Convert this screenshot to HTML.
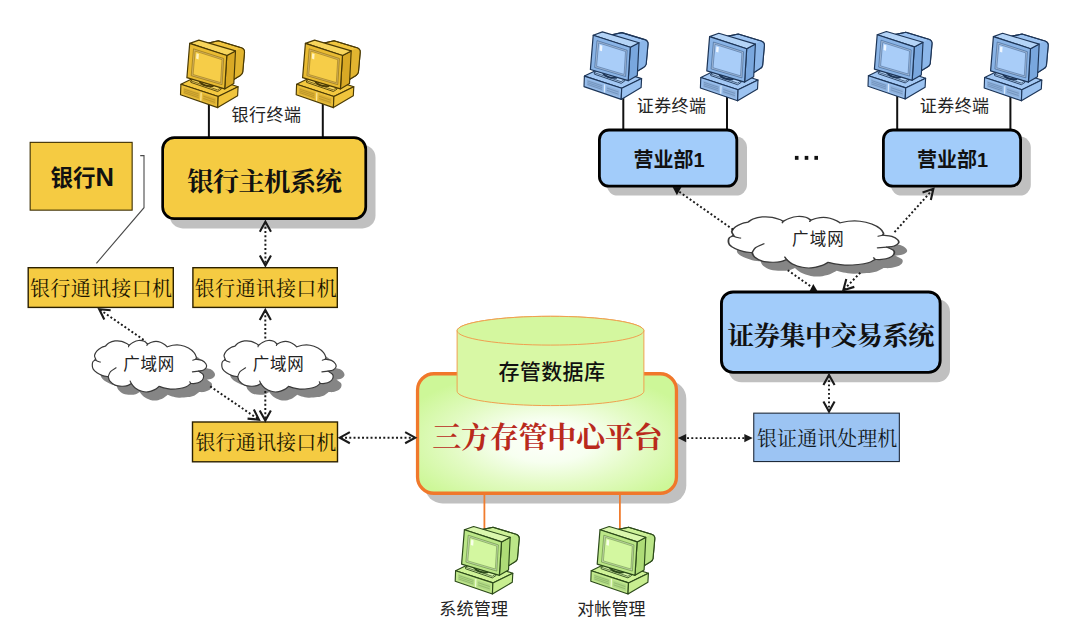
<!DOCTYPE html>
<html><head><meta charset="utf-8"><title>diagram</title>
<style>html,body{margin:0;padding:0;background:#fff;font-family:"Liberation Sans",sans-serif}svg{display:block}</style>
</head><body>
<svg width="1080" height="623" viewBox="0 0 1080 623">
<rect width="1080" height="623" fill="#fff"/>
<defs><path id="cl" d="M3.87 20.02C3.64 19.31 2.33 17.21 2.52 15.75C2.7 14.29 3.83 12.56 4.99 11.25C6.15 9.94 8.08 8.67 9.48 7.88C10.89 7.1 12.76 6.76 13.42 6.53C13.98 6.01 15.19 4.25 16.79 3.39C18.38 2.53 20.81 1.65 22.97 1.37C25.12 1.09 27.74 1.27 29.71 1.7C31.67 2.13 33.55 3.3 34.76 3.95C35.98 4.61 36.64 5.36 37.01 5.64C37.67 5.17 39.35 3.61 40.94 2.83C42.54 2.04 44.69 1.1 46.56 0.92C48.43 0.73 50.68 1.1 52.18 1.7C53.68 2.3 54.99 4.04 55.55 4.51C56.25 4.18 58.1 3.05 59.5 2.6C60.9 2.15 62.52 1.8 64 1.8C65.48 1.8 66.92 2.05 68.4 2.6C69.88 3.15 71.78 4.32 72.9 5.1C74.02 5.88 74.73 6.93 75.1 7.3C76.04 7.04 78.47 5.92 80.72 5.64C82.97 5.36 85.96 5.17 88.58 5.64C91.21 6.1 94.2 7.23 96.45 8.44C98.7 9.66 100.76 11.44 102.07 12.94C103.38 14.44 104.03 16.31 104.31 17.43C104.6 18.56 103.85 19.31 103.75 19.68C104.78 19.87 108.25 20.06 109.93 20.8C111.62 21.55 113.12 23.05 113.87 24.18C114.61 25.3 114.8 26.52 114.43 27.55C114.05 28.58 112.93 29.7 111.62 30.36C110.31 31.01 107.4 31.29 106.56 31.48C107.31 32.04 110.27 33.63 111.06 34.85C111.84 36.07 111.75 37.56 111.28 38.78C110.81 40 109.6 41.31 108.25 42.15C106.9 43 104.78 43.56 103.19 43.84C101.6 44.12 99.45 43.84 98.7 43.84C97.95 44.4 96.07 46.37 94.2 47.21C92.33 48.05 90.08 48.52 87.46 48.89C84.84 49.27 81.09 49.55 78.47 49.46C75.85 49.36 73.6 48.8 71.73 48.33C69.86 47.86 67.99 46.93 67.24 46.65C66.49 47.21 64.61 49.08 62.74 50.02C60.87 50.95 58.13 51.98 56 52.27C53.87 52.55 52.07 52.36 49.93 51.7C47.8 51.05 44.97 49.64 43.19 48.33C41.41 47.02 39.91 44.59 39.26 43.84C38.6 44.21 36.92 45.62 35.33 46.09C33.73 46.55 31.77 46.74 29.71 46.65C27.65 46.55 24.93 46.37 22.97 45.52C21 44.68 19.03 43 17.91 41.59C16.79 40.19 16.51 37.85 16.22 37.1C15.29 36.91 12.48 36.63 10.61 35.97C8.73 35.32 6.58 34.29 4.99 33.16C3.4 32.04 1.84 30.54 1.06 29.23C0.27 27.92 0.27 26.52 0.27 25.3C0.27 24.08 0.46 22.81 1.06 21.93C1.66 21.05 3.4 20.34 3.87 20.02Z"/><path id="cli" d="M2.97 20.02C3.4 20.28 4.65 21.18 5.55 21.59C6.45 22 7.89 22.34 8.36 22.49M16.22 37.1C16.6 36.25 17.16 33.54 18.47 32.04C19.78 30.54 23.15 28.76 24.09 28.11M37.01 5.64L36.45 7.21M39.26 43.84L38.13 41.37M103.75 19.68L100.72 20.58M106.56 31.48L100.38 32.27M98.7 43.84L97.8 42.15M55.55 4.51L54.88 5.86"/><radialGradient id="pg" cx="0.5" cy="0.56" r="0.6" fx="0.5" fy="0.56"><stop offset="0" stop-color="#fefffc"/><stop offset="0.3" stop-color="#f7fff0"/><stop offset="0.62" stop-color="#e3fbc4"/><stop offset="1" stop-color="#cdf798"/></radialGradient><filter id="glow" x="-5%" y="-30%" width="110%" height="160%"><feMorphology in="SourceAlpha" operator="dilate" radius="1.2" result="d"/><feGaussianBlur in="d" stdDeviation="1.6" result="b"/><feFlood flood-color="#fff" flood-opacity="0.95"/><feComposite in2="b" operator="in" result="g"/><feMerge><feMergeNode in="g"/><feMergeNode in="g"/><feMergeNode in="SourceGraphic"/></feMerge></filter></defs>
<line x1="208.9" y1="98" x2="208.9" y2="138" stroke="#111" stroke-width="2"/>
<line x1="322.8" y1="98" x2="322.8" y2="138" stroke="#111" stroke-width="2"/>
<line x1="623.3" y1="92" x2="623.3" y2="130" stroke="#111" stroke-width="2"/>
<line x1="727" y1="94" x2="727" y2="130" stroke="#111" stroke-width="2"/>
<line x1="897.2" y1="90" x2="897.2" y2="130" stroke="#111" stroke-width="2"/>
<line x1="1010.4" y1="94" x2="1010.4" y2="130" stroke="#111" stroke-width="2"/>
<rect x="169.7" y="144.7" width="205.8" height="83.7" rx="13" fill="#c0c0c0"/><rect x="162.65" y="137.65" width="203.1" height="81" rx="11.65" fill="#f5cb42" stroke="#000" stroke-width="2.7"/>
<rect x="30.15" y="142.35" width="102" height="67.8" rx="0" fill="#f5cb42" stroke="#3b2d00" stroke-width="1.1"/>
<polyline points="140.2,155.6 144,155.6 144,207.7 96.4,263.3" fill="none" stroke="#4a4a4a" stroke-width="1.1"/>
<rect x="28.2" y="267.7" width="145.1" height="39.7" rx="0" fill="#f5cb42" stroke="#2b2000" stroke-width="1.4"/>
<rect x="192.9" y="267.7" width="144.4" height="39.7" rx="0" fill="#f5cb42" stroke="#2b2000" stroke-width="1.4"/>
<rect x="192.5" y="422" width="145" height="39.8" rx="0" fill="#f5cb42" stroke="#2b2000" stroke-width="1.4"/>
<rect x="606.8" y="136.6" width="140.2" height="59" rx="11" fill="#c0c0c0"/><rect x="599.4" y="130" width="137.4" height="56.2" rx="9.6" fill="#a2ccfa" stroke="#000" stroke-width="2.8"/>
<rect x="890.8" y="136.6" width="140" height="59" rx="11" fill="#c0c0c0"/><rect x="883.4" y="130" width="137.2" height="56.2" rx="9.6" fill="#a2ccfa" stroke="#000" stroke-width="2.8"/>
<rect x="728.4" y="298.9" width="221.6" height="83.3" rx="13" fill="#c0c0c0"/><rect x="721.45" y="291.95" width="218.7" height="80.4" rx="11.55" fill="#a2ccfa" stroke="#000" stroke-width="2.9"/>
<rect x="753.75" y="413.15" width="145.6" height="48.4" rx="0" fill="#9cc4f3" stroke="#1e2a3a" stroke-width="1.1"/>
<rect x="424.6" y="380.7" width="261.7" height="122.7" rx="18" fill="#c0c0c0"/>
<line x1="484.4" y1="494" x2="484.4" y2="530" stroke="#f07c2e" stroke-width="1.8"/>
<line x1="619.9" y1="494" x2="619.9" y2="530" stroke="#f07c2e" stroke-width="1.8"/>
<rect x="417.55" y="373.75" width="258.9" height="119.5" rx="16.35" fill="url(#pg)" stroke="#f0782b" stroke-width="3.3"/>
<path d="M457.1 330.7 L457.1 391.2 A93.4 14.4 0 0 0 643.9 391.2 L643.9 330.7 A93.4 14.4 0 0 0 457.1 330.7Z" fill="#d8f8a5" stroke="#f0a050" stroke-width="1"/>
<ellipse cx="550.5" cy="330.7" rx="93.4" ry="14.4" fill="#d4f79f" stroke="#f0a050" stroke-width="1"/>
<g transform="translate(92 339.6) scale(1 1)"><use href="#cl" fill="#858585" transform="translate(8.4 8.6)"/><use href="#cl" fill="#fff" stroke="#3a3a3a" stroke-width="1.2" vector-effect="non-scaling-stroke" stroke-linejoin="round"/><use href="#cli" fill="none" stroke="#3a3a3a" stroke-width="1.1" stroke-linecap="round" vector-effect="non-scaling-stroke"/></g>
<g transform="translate(221.5 339.6) scale(1 1)"><use href="#cl" fill="#858585" transform="translate(8.4 8.6)"/><use href="#cl" fill="#fff" stroke="#3a3a3a" stroke-width="1.2" vector-effect="non-scaling-stroke" stroke-linejoin="round"/><use href="#cli" fill="none" stroke="#3a3a3a" stroke-width="1.1" stroke-linecap="round" vector-effect="non-scaling-stroke"/></g>
<g transform="translate(728 215.6) scale(1.49 1)"><use href="#cl" fill="#858585" transform="translate(5.64 8.6)"/><use href="#cl" fill="#fff" stroke="#3a3a3a" stroke-width="1.2" vector-effect="non-scaling-stroke" stroke-linejoin="round"/><use href="#cli" fill="none" stroke="#3a3a3a" stroke-width="1.1" stroke-linecap="round" vector-effect="non-scaling-stroke"/></g>
<line x1="265.4" y1="222.6" x2="265.4" y2="264.6" stroke="#1a1a1a" stroke-width="1.95" stroke-dasharray="1.95 2.3"/><polyline points="259.82,231.66 265.4,221.6 270.98,231.66" fill="none" stroke="#1a1a1a" stroke-width="2.1" stroke-linejoin="miter"/><polyline points="270.98,255.54 265.4,265.6 259.82,255.54" fill="none" stroke="#1a1a1a" stroke-width="2.1" stroke-linejoin="miter"/>
<line x1="100.02" y1="309.77" x2="145.6" y2="341.2" stroke="#1a1a1a" stroke-width="1.95" stroke-dasharray="1.95 2.3"/><polyline points="104.31,319.5 99.2,309.2 110.65,310.32" fill="none" stroke="#1a1a1a" stroke-width="2.1" stroke-linejoin="miter"/>
<line x1="265.3" y1="311" x2="265.3" y2="340.5" stroke="#1a1a1a" stroke-width="1.95" stroke-dasharray="1.95 2.3"/><polyline points="259.72,320.06 265.3,310 270.88,320.06" fill="none" stroke="#1a1a1a" stroke-width="2.1" stroke-linejoin="miter"/>
<line x1="265.3" y1="391" x2="265.3" y2="419.6" stroke="#1a1a1a" stroke-width="1.95" stroke-dasharray="1.95 2.3"/><polyline points="270.88,410.54 265.3,420.6 259.72,410.54" fill="none" stroke="#1a1a1a" stroke-width="2.1" stroke-linejoin="miter"/>
<line x1="210.2" y1="386.4" x2="258.17" y2="419.14" stroke="#1a1a1a" stroke-width="1.95" stroke-dasharray="1.95 2.3"/><polyline points="253.83,409.43 259,419.7 247.55,418.64" fill="none" stroke="#1a1a1a" stroke-width="2.1" stroke-linejoin="miter"/>
<line x1="340.8" y1="437.7" x2="414.2" y2="437.7" stroke="#1a1a1a" stroke-width="1.95" stroke-dasharray="1.95 2.3"/><polyline points="349.86,443.28 339.8,437.7 349.86,432.12" fill="none" stroke="#1a1a1a" stroke-width="2.1" stroke-linejoin="miter"/><polyline points="405.14,432.12 415.2,437.7 405.14,443.28" fill="none" stroke="#1a1a1a" stroke-width="2.1" stroke-linejoin="miter"/>
<line x1="682.8" y1="438.1" x2="747.7" y2="438.1" stroke="#1a1a1a" stroke-width="1.95" stroke-dasharray="1.95 2.3"/><polygon points="677.8,438.1 686.2,434 686.2,442.2" fill="#1a1a1a"/><polygon points="752.7,438.1 744.3,442.2 744.3,434" fill="#1a1a1a"/>
<line x1="829" y1="375.9" x2="829" y2="410.5" stroke="#1a1a1a" stroke-width="1.95" stroke-dasharray="1.95 2.3"/><polyline points="823.42,384.96 829,374.9 834.58,384.96" fill="none" stroke="#1a1a1a" stroke-width="2.1" stroke-linejoin="miter"/><polyline points="834.58,401.44 829,411.5 823.42,401.44" fill="none" stroke="#1a1a1a" stroke-width="2.1" stroke-linejoin="miter"/>
<line x1="679.3" y1="191.8" x2="733.8" y2="230.1" stroke="#1a1a1a" stroke-width="1.95" stroke-dasharray="1.95 2.3"/>
<polygon points="672.6,187 681.5,187 676.9,195.3" fill="#111"/>
<line x1="787.7" y1="270.2" x2="810.6" y2="286.3" stroke="#1a1a1a" stroke-width="1.95" stroke-dasharray="1.95 2.3"/>
<polygon points="809.4,291.5 817.7,291.5 813.3,284" fill="#111"/>
<line x1="932.73" y1="189.54" x2="894.1" y2="232.6" stroke="#1a1a1a" stroke-width="1.95" stroke-dasharray="1.95 2.3"/><polyline points="922.53,192.56 933.4,188.8 930.83,200.01" fill="none" stroke="#1a1a1a" stroke-width="2.1" stroke-linejoin="miter"/>
<line x1="860.3" y1="272.7" x2="844" y2="289.48" stroke="#1a1a1a" stroke-width="1.95" stroke-dasharray="1.95 2.3"/><polyline points="854.31,286.87 843.3,290.2 846.31,279.1" fill="none" stroke="#1a1a1a" stroke-width="2.1" stroke-linejoin="miter"/>
<g transform="translate(180.3 40.2)" stroke="#4a3a05" stroke-width="1.15" stroke-linejoin="round"><path d="M27 3 L38 0.6 L61 7.6 Q64.4 8.8 64.2 12 L62.4 32 Q62 34 60 35.2 L53 39.5 L50 20Z" fill="#f1c53f"/><path d="M55.2 10.7 L61 7.6 Q64.4 8.8 64.2 12 L62.4 32 Q62 34 60 35.2 L53.8 39 Z" fill="#e2b530" stroke="none"/><path d="M27 3 L38 0.6 L61 7.6 Q64.4 8.8 64.2 12 L62.4 32 Q62 34 60 35.2 L53 39.5" fill="none"/><polygon points="0.6,44.1 20.5,34.4 57.8,46.6 37.9,56.3" fill="#f3c840"/><polygon points="0.6,44.1 37.9,56.3 37.4,67.4 0.2,54.6" fill="#ebbf39"/><polygon points="37.9,56.3 57.8,46.6 57.3,55.6 37.4,67.4" fill="#f0c43c"/><polygon points="3.12,47.27 19.15,52.58 18.88,59.06 2.88,53.6" fill="#d9ae35" stroke="none"/><polygon points="22.51,53.69 35.55,58 35.26,64.64 22.23,60.2" fill="#d9ae35" stroke="none"/><g stroke="#8a6d10" stroke-width="0.6" fill="none" opacity="0.55"><path d="M3.81 49L18.34 53.84"/><path d="M3.74 50.69L18.27 55.57"/><path d="M3.68 52.37L18.2 57.29"/><path d="M23.16 56.11L34.71 59.97"/><path d="M23.07 58.28L34.61 62.18"/></g><path d="M20.86 52.37L20.52 60.49" stroke="#fff3c0" stroke-width="1.1" opacity="0.8"/><path d="M10.4 40.6 L10.6 42.2 L37.4 51.3 L41 48.9 L40.8 47.4 L14 38.4Z" fill="#f7d55c" stroke-width="0.9"/><path d="M10.5 40.6 L37.3 49.7 L40.8 47.4" fill="none" stroke-width="0.7"/><path d="M19.5 41.6 Q24 46.6 32.5 45.8" fill="none" stroke-width="1.9" stroke-linecap="round"/><polygon points="46.5,15.3 55.2,10.7 53.5,43.4 44.4,48.7" fill="#d9a925"/><polygon points="9.4,3.2 18.6,-0.1 55.2,10.7 46.5,15.3" fill="#f7d55c"/><polygon points="9.4,3.2 46.5,15.3 44.4,48.7 6.6,37.5" fill="#e9bb33" stroke-width="1.2"/><polygon points="13.2,8.6 43.4,18.3 41.8,44.5 10.9,35.5" fill="#d4b05a" stroke="#8a6d10" stroke-width="0.6"/><polygon points="14.9,10.9 41.7,19.5 40.3,42.4 12.8,34.3" fill="#f6cd48" stroke="#8a6d10" stroke-width="0.5"/><polygon points="16.2,13 18.6,13.8 18.2,19.2 15.8,18.4" fill="#fff3c0" stroke="none"/></g>
<g transform="translate(296 40.2)" stroke="#4a3a05" stroke-width="1.15" stroke-linejoin="round"><path d="M27 3 L38 0.6 L61 7.6 Q64.4 8.8 64.2 12 L62.4 32 Q62 34 60 35.2 L53 39.5 L50 20Z" fill="#f1c53f"/><path d="M55.2 10.7 L61 7.6 Q64.4 8.8 64.2 12 L62.4 32 Q62 34 60 35.2 L53.8 39 Z" fill="#e2b530" stroke="none"/><path d="M27 3 L38 0.6 L61 7.6 Q64.4 8.8 64.2 12 L62.4 32 Q62 34 60 35.2 L53 39.5" fill="none"/><polygon points="0.6,44.1 20.5,34.4 57.8,46.6 37.9,56.3" fill="#f3c840"/><polygon points="0.6,44.1 37.9,56.3 37.4,67.4 0.2,54.6" fill="#ebbf39"/><polygon points="37.9,56.3 57.8,46.6 57.3,55.6 37.4,67.4" fill="#f0c43c"/><polygon points="3.12,47.27 19.15,52.58 18.88,59.06 2.88,53.6" fill="#d9ae35" stroke="none"/><polygon points="22.51,53.69 35.55,58 35.26,64.64 22.23,60.2" fill="#d9ae35" stroke="none"/><g stroke="#8a6d10" stroke-width="0.6" fill="none" opacity="0.55"><path d="M3.81 49L18.34 53.84"/><path d="M3.74 50.69L18.27 55.57"/><path d="M3.68 52.37L18.2 57.29"/><path d="M23.16 56.11L34.71 59.97"/><path d="M23.07 58.28L34.61 62.18"/></g><path d="M20.86 52.37L20.52 60.49" stroke="#fff3c0" stroke-width="1.1" opacity="0.8"/><path d="M10.4 40.6 L10.6 42.2 L37.4 51.3 L41 48.9 L40.8 47.4 L14 38.4Z" fill="#f7d55c" stroke-width="0.9"/><path d="M10.5 40.6 L37.3 49.7 L40.8 47.4" fill="none" stroke-width="0.7"/><path d="M19.5 41.6 Q24 46.6 32.5 45.8" fill="none" stroke-width="1.9" stroke-linecap="round"/><polygon points="46.5,15.3 55.2,10.7 53.5,43.4 44.4,48.7" fill="#d9a925"/><polygon points="9.4,3.2 18.6,-0.1 55.2,10.7 46.5,15.3" fill="#f7d55c"/><polygon points="9.4,3.2 46.5,15.3 44.4,48.7 6.6,37.5" fill="#e9bb33" stroke-width="1.2"/><polygon points="13.2,8.6 43.4,18.3 41.8,44.5 10.9,35.5" fill="#d4b05a" stroke="#8a6d10" stroke-width="0.6"/><polygon points="14.9,10.9 41.7,19.5 40.3,42.4 12.8,34.3" fill="#f6cd48" stroke="#8a6d10" stroke-width="0.5"/><polygon points="16.2,13 18.6,13.8 18.2,19.2 15.8,18.4" fill="#fff3c0" stroke="none"/></g>
<g transform="translate(583.8 32)" stroke="#1d3557" stroke-width="1.15" stroke-linejoin="round"><path d="M27 3 L38 0.6 L61 7.6 Q64.4 8.8 64.2 12 L62.4 32 Q62 34 60 35.2 L53 39.5 L50 20Z" fill="#9dc4f2"/><path d="M55.2 10.7 L61 7.6 Q64.4 8.8 64.2 12 L62.4 32 Q62 34 60 35.2 L53.8 39 Z" fill="#8cb7ea" stroke="none"/><path d="M27 3 L38 0.6 L61 7.6 Q64.4 8.8 64.2 12 L62.4 32 Q62 34 60 35.2 L53 39.5" fill="none"/><polygon points="0.6,44.1 20.5,34.4 57.8,46.6 37.9,56.3" fill="#a3c8f4"/><polygon points="0.6,44.1 37.9,56.3 37.4,67.4 0.2,54.6" fill="#97beed"/><polygon points="37.9,56.3 57.8,46.6 57.3,55.6 37.4,67.4" fill="#9cc3f1"/><polygon points="3.12,47.27 19.15,52.58 18.88,59.06 2.88,53.6" fill="#8fb0d9" stroke="none"/><polygon points="22.51,53.69 35.55,58 35.26,64.64 22.23,60.2" fill="#8fb0d9" stroke="none"/><g stroke="#3a5f8f" stroke-width="0.6" fill="none" opacity="0.55"><path d="M3.81 49L18.34 53.84"/><path d="M3.74 50.69L18.27 55.57"/><path d="M3.68 52.37L18.2 57.29"/><path d="M23.16 56.11L34.71 59.97"/><path d="M23.07 58.28L34.61 62.18"/></g><path d="M20.86 52.37L20.52 60.49" stroke="#eef6ff" stroke-width="1.1" opacity="0.8"/><path d="M10.4 40.6 L10.6 42.2 L37.4 51.3 L41 48.9 L40.8 47.4 L14 38.4Z" fill="#b4d4f7" stroke-width="0.9"/><path d="M10.5 40.6 L37.3 49.7 L40.8 47.4" fill="none" stroke-width="0.7"/><path d="M19.5 41.6 Q24 46.6 32.5 45.8" fill="none" stroke-width="1.9" stroke-linecap="round"/><polygon points="46.5,15.3 55.2,10.7 53.5,43.4 44.4,48.7" fill="#79a7de"/><polygon points="9.4,3.2 18.6,-0.1 55.2,10.7 46.5,15.3" fill="#b4d4f7"/><polygon points="9.4,3.2 46.5,15.3 44.4,48.7 6.6,37.5" fill="#8ab4e6" stroke-width="1.2"/><polygon points="13.2,8.6 43.4,18.3 41.8,44.5 10.9,35.5" fill="#9fb7d6" stroke="#3a5f8f" stroke-width="0.6"/><polygon points="14.9,10.9 41.7,19.5 40.3,42.4 12.8,34.3" fill="#a9cdf8" stroke="#3a5f8f" stroke-width="0.5"/><polygon points="16.2,13 18.6,13.8 18.2,19.2 15.8,18.4" fill="#eef6ff" stroke="none"/></g>
<g transform="translate(700.2 33.4)" stroke="#1d3557" stroke-width="1.15" stroke-linejoin="round"><path d="M27 3 L38 0.6 L61 7.6 Q64.4 8.8 64.2 12 L62.4 32 Q62 34 60 35.2 L53 39.5 L50 20Z" fill="#9dc4f2"/><path d="M55.2 10.7 L61 7.6 Q64.4 8.8 64.2 12 L62.4 32 Q62 34 60 35.2 L53.8 39 Z" fill="#8cb7ea" stroke="none"/><path d="M27 3 L38 0.6 L61 7.6 Q64.4 8.8 64.2 12 L62.4 32 Q62 34 60 35.2 L53 39.5" fill="none"/><polygon points="0.6,44.1 20.5,34.4 57.8,46.6 37.9,56.3" fill="#a3c8f4"/><polygon points="0.6,44.1 37.9,56.3 37.4,67.4 0.2,54.6" fill="#97beed"/><polygon points="37.9,56.3 57.8,46.6 57.3,55.6 37.4,67.4" fill="#9cc3f1"/><polygon points="3.12,47.27 19.15,52.58 18.88,59.06 2.88,53.6" fill="#8fb0d9" stroke="none"/><polygon points="22.51,53.69 35.55,58 35.26,64.64 22.23,60.2" fill="#8fb0d9" stroke="none"/><g stroke="#3a5f8f" stroke-width="0.6" fill="none" opacity="0.55"><path d="M3.81 49L18.34 53.84"/><path d="M3.74 50.69L18.27 55.57"/><path d="M3.68 52.37L18.2 57.29"/><path d="M23.16 56.11L34.71 59.97"/><path d="M23.07 58.28L34.61 62.18"/></g><path d="M20.86 52.37L20.52 60.49" stroke="#eef6ff" stroke-width="1.1" opacity="0.8"/><path d="M10.4 40.6 L10.6 42.2 L37.4 51.3 L41 48.9 L40.8 47.4 L14 38.4Z" fill="#b4d4f7" stroke-width="0.9"/><path d="M10.5 40.6 L37.3 49.7 L40.8 47.4" fill="none" stroke-width="0.7"/><path d="M19.5 41.6 Q24 46.6 32.5 45.8" fill="none" stroke-width="1.9" stroke-linecap="round"/><polygon points="46.5,15.3 55.2,10.7 53.5,43.4 44.4,48.7" fill="#79a7de"/><polygon points="9.4,3.2 18.6,-0.1 55.2,10.7 46.5,15.3" fill="#b4d4f7"/><polygon points="9.4,3.2 46.5,15.3 44.4,48.7 6.6,37.5" fill="#8ab4e6" stroke-width="1.2"/><polygon points="13.2,8.6 43.4,18.3 41.8,44.5 10.9,35.5" fill="#9fb7d6" stroke="#3a5f8f" stroke-width="0.6"/><polygon points="14.9,10.9 41.7,19.5 40.3,42.4 12.8,34.3" fill="#a9cdf8" stroke="#3a5f8f" stroke-width="0.5"/><polygon points="16.2,13 18.6,13.8 18.2,19.2 15.8,18.4" fill="#eef6ff" stroke="none"/></g>
<g transform="translate(867.8 31.6)" stroke="#1d3557" stroke-width="1.15" stroke-linejoin="round"><path d="M27 3 L38 0.6 L61 7.6 Q64.4 8.8 64.2 12 L62.4 32 Q62 34 60 35.2 L53 39.5 L50 20Z" fill="#9dc4f2"/><path d="M55.2 10.7 L61 7.6 Q64.4 8.8 64.2 12 L62.4 32 Q62 34 60 35.2 L53.8 39 Z" fill="#8cb7ea" stroke="none"/><path d="M27 3 L38 0.6 L61 7.6 Q64.4 8.8 64.2 12 L62.4 32 Q62 34 60 35.2 L53 39.5" fill="none"/><polygon points="0.6,44.1 20.5,34.4 57.8,46.6 37.9,56.3" fill="#a3c8f4"/><polygon points="0.6,44.1 37.9,56.3 37.4,67.4 0.2,54.6" fill="#97beed"/><polygon points="37.9,56.3 57.8,46.6 57.3,55.6 37.4,67.4" fill="#9cc3f1"/><polygon points="3.12,47.27 19.15,52.58 18.88,59.06 2.88,53.6" fill="#8fb0d9" stroke="none"/><polygon points="22.51,53.69 35.55,58 35.26,64.64 22.23,60.2" fill="#8fb0d9" stroke="none"/><g stroke="#3a5f8f" stroke-width="0.6" fill="none" opacity="0.55"><path d="M3.81 49L18.34 53.84"/><path d="M3.74 50.69L18.27 55.57"/><path d="M3.68 52.37L18.2 57.29"/><path d="M23.16 56.11L34.71 59.97"/><path d="M23.07 58.28L34.61 62.18"/></g><path d="M20.86 52.37L20.52 60.49" stroke="#eef6ff" stroke-width="1.1" opacity="0.8"/><path d="M10.4 40.6 L10.6 42.2 L37.4 51.3 L41 48.9 L40.8 47.4 L14 38.4Z" fill="#b4d4f7" stroke-width="0.9"/><path d="M10.5 40.6 L37.3 49.7 L40.8 47.4" fill="none" stroke-width="0.7"/><path d="M19.5 41.6 Q24 46.6 32.5 45.8" fill="none" stroke-width="1.9" stroke-linecap="round"/><polygon points="46.5,15.3 55.2,10.7 53.5,43.4 44.4,48.7" fill="#79a7de"/><polygon points="9.4,3.2 18.6,-0.1 55.2,10.7 46.5,15.3" fill="#b4d4f7"/><polygon points="9.4,3.2 46.5,15.3 44.4,48.7 6.6,37.5" fill="#8ab4e6" stroke-width="1.2"/><polygon points="13.2,8.6 43.4,18.3 41.8,44.5 10.9,35.5" fill="#9fb7d6" stroke="#3a5f8f" stroke-width="0.6"/><polygon points="14.9,10.9 41.7,19.5 40.3,42.4 12.8,34.3" fill="#a9cdf8" stroke="#3a5f8f" stroke-width="0.5"/><polygon points="16.2,13 18.6,13.8 18.2,19.2 15.8,18.4" fill="#eef6ff" stroke="none"/></g>
<g transform="translate(984 33.4)" stroke="#1d3557" stroke-width="1.15" stroke-linejoin="round"><path d="M27 3 L38 0.6 L61 7.6 Q64.4 8.8 64.2 12 L62.4 32 Q62 34 60 35.2 L53 39.5 L50 20Z" fill="#9dc4f2"/><path d="M55.2 10.7 L61 7.6 Q64.4 8.8 64.2 12 L62.4 32 Q62 34 60 35.2 L53.8 39 Z" fill="#8cb7ea" stroke="none"/><path d="M27 3 L38 0.6 L61 7.6 Q64.4 8.8 64.2 12 L62.4 32 Q62 34 60 35.2 L53 39.5" fill="none"/><polygon points="0.6,44.1 20.5,34.4 57.8,46.6 37.9,56.3" fill="#a3c8f4"/><polygon points="0.6,44.1 37.9,56.3 37.4,67.4 0.2,54.6" fill="#97beed"/><polygon points="37.9,56.3 57.8,46.6 57.3,55.6 37.4,67.4" fill="#9cc3f1"/><polygon points="3.12,47.27 19.15,52.58 18.88,59.06 2.88,53.6" fill="#8fb0d9" stroke="none"/><polygon points="22.51,53.69 35.55,58 35.26,64.64 22.23,60.2" fill="#8fb0d9" stroke="none"/><g stroke="#3a5f8f" stroke-width="0.6" fill="none" opacity="0.55"><path d="M3.81 49L18.34 53.84"/><path d="M3.74 50.69L18.27 55.57"/><path d="M3.68 52.37L18.2 57.29"/><path d="M23.16 56.11L34.71 59.97"/><path d="M23.07 58.28L34.61 62.18"/></g><path d="M20.86 52.37L20.52 60.49" stroke="#eef6ff" stroke-width="1.1" opacity="0.8"/><path d="M10.4 40.6 L10.6 42.2 L37.4 51.3 L41 48.9 L40.8 47.4 L14 38.4Z" fill="#b4d4f7" stroke-width="0.9"/><path d="M10.5 40.6 L37.3 49.7 L40.8 47.4" fill="none" stroke-width="0.7"/><path d="M19.5 41.6 Q24 46.6 32.5 45.8" fill="none" stroke-width="1.9" stroke-linecap="round"/><polygon points="46.5,15.3 55.2,10.7 53.5,43.4 44.4,48.7" fill="#79a7de"/><polygon points="9.4,3.2 18.6,-0.1 55.2,10.7 46.5,15.3" fill="#b4d4f7"/><polygon points="9.4,3.2 46.5,15.3 44.4,48.7 6.6,37.5" fill="#8ab4e6" stroke-width="1.2"/><polygon points="13.2,8.6 43.4,18.3 41.8,44.5 10.9,35.5" fill="#9fb7d6" stroke="#3a5f8f" stroke-width="0.6"/><polygon points="14.9,10.9 41.7,19.5 40.3,42.4 12.8,34.3" fill="#a9cdf8" stroke="#3a5f8f" stroke-width="0.5"/><polygon points="16.2,13 18.6,13.8 18.2,19.2 15.8,18.4" fill="#eef6ff" stroke="none"/></g>
<g transform="translate(455 526.6)" stroke="#2c4a1a" stroke-width="1.15" stroke-linejoin="round"><path d="M27 3 L38 0.6 L61 7.6 Q64.4 8.8 64.2 12 L62.4 32 Q62 34 60 35.2 L53 39.5 L50 20Z" fill="#cdf198"/><path d="M55.2 10.7 L61 7.6 Q64.4 8.8 64.2 12 L62.4 32 Q62 34 60 35.2 L53.8 39 Z" fill="#bbe688" stroke="none"/><path d="M27 3 L38 0.6 L61 7.6 Q64.4 8.8 64.2 12 L62.4 32 Q62 34 60 35.2 L53 39.5" fill="none"/><polygon points="0.6,44.1 20.5,34.4 57.8,46.6 37.9,56.3" fill="#cff397"/><polygon points="0.6,44.1 37.9,56.3 37.4,67.4 0.2,54.6" fill="#c1e98c"/><polygon points="37.9,56.3 57.8,46.6 57.3,55.6 37.4,67.4" fill="#c8ee90"/><polygon points="3.12,47.27 19.15,52.58 18.88,59.06 2.88,53.6" fill="#b0d786" stroke="none"/><polygon points="22.51,53.69 35.55,58 35.26,64.64 22.23,60.2" fill="#b0d786" stroke="none"/><g stroke="#5d8a3a" stroke-width="0.6" fill="none" opacity="0.55"><path d="M3.81 49L18.34 53.84"/><path d="M3.74 50.69L18.27 55.57"/><path d="M3.68 52.37L18.2 57.29"/><path d="M23.16 56.11L34.71 59.97"/><path d="M23.07 58.28L34.61 62.18"/></g><path d="M20.86 52.37L20.52 60.49" stroke="#f8ffea" stroke-width="1.1" opacity="0.8"/><path d="M10.4 40.6 L10.6 42.2 L37.4 51.3 L41 48.9 L40.8 47.4 L14 38.4Z" fill="#daf7ad" stroke-width="0.9"/><path d="M10.5 40.6 L37.3 49.7 L40.8 47.4" fill="none" stroke-width="0.7"/><path d="M19.5 41.6 Q24 46.6 32.5 45.8" fill="none" stroke-width="1.9" stroke-linecap="round"/><polygon points="46.5,15.3 55.2,10.7 53.5,43.4 44.4,48.7" fill="#aedc77"/><polygon points="9.4,3.2 18.6,-0.1 55.2,10.7 46.5,15.3" fill="#daf7ad"/><polygon points="9.4,3.2 46.5,15.3 44.4,48.7 6.6,37.5" fill="#bce788" stroke-width="1.2"/><polygon points="13.2,8.6 43.4,18.3 41.8,44.5 10.9,35.5" fill="#bfd3a4" stroke="#5d8a3a" stroke-width="0.6"/><polygon points="14.9,10.9 41.7,19.5 40.3,42.4 12.8,34.3" fill="#d3f7a0" stroke="#5d8a3a" stroke-width="0.5"/><polygon points="16.2,13 18.6,13.8 18.2,19.2 15.8,18.4" fill="#f8ffea" stroke="none"/></g>
<g transform="translate(590.6 526.6)" stroke="#2c4a1a" stroke-width="1.15" stroke-linejoin="round"><path d="M27 3 L38 0.6 L61 7.6 Q64.4 8.8 64.2 12 L62.4 32 Q62 34 60 35.2 L53 39.5 L50 20Z" fill="#cdf198"/><path d="M55.2 10.7 L61 7.6 Q64.4 8.8 64.2 12 L62.4 32 Q62 34 60 35.2 L53.8 39 Z" fill="#bbe688" stroke="none"/><path d="M27 3 L38 0.6 L61 7.6 Q64.4 8.8 64.2 12 L62.4 32 Q62 34 60 35.2 L53 39.5" fill="none"/><polygon points="0.6,44.1 20.5,34.4 57.8,46.6 37.9,56.3" fill="#cff397"/><polygon points="0.6,44.1 37.9,56.3 37.4,67.4 0.2,54.6" fill="#c1e98c"/><polygon points="37.9,56.3 57.8,46.6 57.3,55.6 37.4,67.4" fill="#c8ee90"/><polygon points="3.12,47.27 19.15,52.58 18.88,59.06 2.88,53.6" fill="#b0d786" stroke="none"/><polygon points="22.51,53.69 35.55,58 35.26,64.64 22.23,60.2" fill="#b0d786" stroke="none"/><g stroke="#5d8a3a" stroke-width="0.6" fill="none" opacity="0.55"><path d="M3.81 49L18.34 53.84"/><path d="M3.74 50.69L18.27 55.57"/><path d="M3.68 52.37L18.2 57.29"/><path d="M23.16 56.11L34.71 59.97"/><path d="M23.07 58.28L34.61 62.18"/></g><path d="M20.86 52.37L20.52 60.49" stroke="#f8ffea" stroke-width="1.1" opacity="0.8"/><path d="M10.4 40.6 L10.6 42.2 L37.4 51.3 L41 48.9 L40.8 47.4 L14 38.4Z" fill="#daf7ad" stroke-width="0.9"/><path d="M10.5 40.6 L37.3 49.7 L40.8 47.4" fill="none" stroke-width="0.7"/><path d="M19.5 41.6 Q24 46.6 32.5 45.8" fill="none" stroke-width="1.9" stroke-linecap="round"/><polygon points="46.5,15.3 55.2,10.7 53.5,43.4 44.4,48.7" fill="#aedc77"/><polygon points="9.4,3.2 18.6,-0.1 55.2,10.7 46.5,15.3" fill="#daf7ad"/><polygon points="9.4,3.2 46.5,15.3 44.4,48.7 6.6,37.5" fill="#bce788" stroke-width="1.2"/><polygon points="13.2,8.6 43.4,18.3 41.8,44.5 10.9,35.5" fill="#bfd3a4" stroke="#5d8a3a" stroke-width="0.6"/><polygon points="14.9,10.9 41.7,19.5 40.3,42.4 12.8,34.3" fill="#d3f7a0" stroke="#5d8a3a" stroke-width="0.5"/><polygon points="16.2,13 18.6,13.8 18.2,19.2 15.8,18.4" fill="#f8ffea" stroke="none"/></g>
<rect x="794.9" y="155.9" width="3.6" height="3.9" fill="#111"/>
<rect x="804.7" y="155.9" width="3.6" height="3.9" fill="#111"/>
<rect x="814.4" y="155.9" width="3.6" height="3.9" fill="#111"/>
<text x="187.18" y="191.07" font-size="26.5" font-weight="bold" fill="#111" textLength="154.7" lengthAdjust="spacing" style='font-family:"Liberation Serif","Noto Serif CJK SC",serif'>银行主机系统</text>
<text x="231.52" y="120.94" font-size="17" fill="#242424" textLength="69.5" lengthAdjust="spacing" style='font-family:"Liberation Sans","Noto Sans CJK SC",sans-serif'>银行终端</text>
<text x="50.58" y="186.44" font-size="22.5" font-weight="bold" fill="#111" style='font-family:"Liberation Sans","Noto Sans CJK SC",sans-serif'>银行<tspan font-size="25.5">N</tspan></text>
<text x="30.06" y="296.39" font-size="20" fill="#1a1400" textLength="141.9" lengthAdjust="spacing" style='font-family:"Liberation Serif","Noto Serif CJK SC",serif'>银行通讯接口机</text>
<text x="194.76" y="296.39" font-size="20" fill="#1a1400" textLength="141.9" lengthAdjust="spacing" style='font-family:"Liberation Serif","Noto Serif CJK SC",serif'>银行通讯接口机</text>
<text x="195.46" y="450.49" font-size="20" fill="#1a1400" textLength="140.9" lengthAdjust="spacing" style='font-family:"Liberation Serif","Noto Serif CJK SC",serif'>银行通讯接口机</text>
<text x="123.36" y="369.6" font-size="16.5" fill="#222" textLength="50.84" lengthAdjust="spacing" style='font-family:"Liberation Sans","Noto Sans CJK SC",sans-serif'>广域网</text>
<text x="252.86" y="369.6" font-size="16.5" fill="#222" textLength="50.84" lengthAdjust="spacing" style='font-family:"Liberation Sans","Noto Sans CJK SC",sans-serif'>广域网</text>
<text x="792.06" y="245.2" font-size="16.5" fill="#222" textLength="51.64" lengthAdjust="spacing" style='font-family:"Liberation Sans","Noto Sans CJK SC",sans-serif'>广域网</text>
<text x="498.38" y="378.8" font-size="21" font-weight="500" fill="#111" textLength="106.64" lengthAdjust="spacing" style='font-family:"Liberation Sans","Noto Sans CJK SC",sans-serif'>存管数据库</text>
<text x="432.17" y="447.55" font-size="29" font-weight="bold" fill="#b92a1c" textLength="230.3" lengthAdjust="spacing" style='font-family:"Liberation Serif","Noto Serif CJK SC",serif'>三方存管中心平台</text>
<text x="439.31" y="614.69" font-size="17" fill="#242424" textLength="68.75" lengthAdjust="spacing" style='font-family:"Liberation Sans","Noto Sans CJK SC",sans-serif'>系统管理</text>
<text x="577.24" y="614.65" font-size="17" fill="#242424" textLength="68.3" lengthAdjust="spacing" style='font-family:"Liberation Sans","Noto Sans CJK SC",sans-serif'>对帐管理</text>
<text x="636.75" y="111.97" font-size="17" fill="#242424" textLength="69.2" lengthAdjust="spacing" style='font-family:"Liberation Sans","Noto Sans CJK SC",sans-serif'>证券终端</text>
<text x="919.85" y="111.97" font-size="17" fill="#242424" textLength="69.2" lengthAdjust="spacing" style='font-family:"Liberation Sans","Noto Sans CJK SC",sans-serif'>证券终端</text>
<text x="633.48" y="167.37" font-size="20" font-weight="bold" fill="#111" style='font-family:"Liberation Sans","Noto Sans CJK SC",sans-serif'>营业部1</text>
<text x="916.98" y="167.37" font-size="20" font-weight="bold" fill="#111" style='font-family:"Liberation Sans","Noto Sans CJK SC",sans-serif'>营业部1</text>
<text x="727.61" y="344.58" font-size="26.5" font-weight="bold" fill="#111" textLength="206.9" lengthAdjust="spacing" style='font-family:"Liberation Serif","Noto Serif CJK SC",serif'>证券集中交易系统</text>
<text x="757.1" y="445.79" font-size="20" fill="#111820" textLength="140.1" lengthAdjust="spacing" style='font-family:"Liberation Serif","Noto Serif CJK SC",serif'>银证通讯处理机</text>
</svg>
</body></html>
